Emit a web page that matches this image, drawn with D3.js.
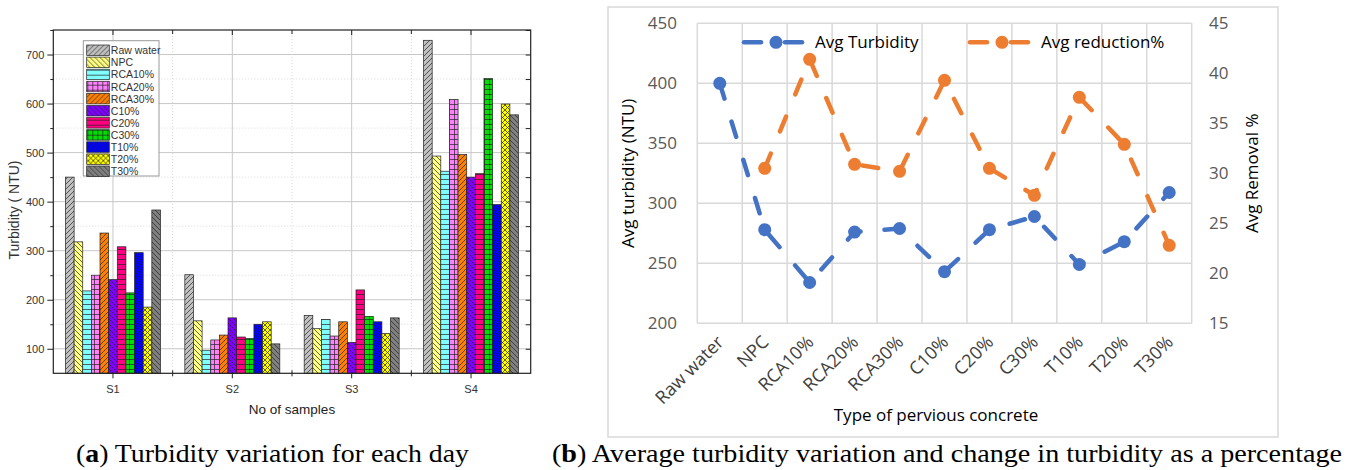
<!DOCTYPE html>
<html>
<head>
<meta charset="utf-8">
<script src="https://cdn.jsdelivr.net/npm/d3@7"></script>
<style>
  body { margin: 0; background: #fff; }
</style>
</head>
<body>
<svg id="fig" width="1354" height="470"></svg>
<script>
// ---- data: panel (a) turbidity per sample day ----
const groups = ["S1", "S2", "S3", "S4"];
const series = ["Raw water", "NPC", "RCA10%", "RCA20%", "RCA30%", "C10%", "C20%", "C30%", "T10%", "T20%", "T30%"];
const s1Values = [450, 318, 218, 250, 336, 241, 308, 214, 296, 185, 383];
const s2Values = [251, 157, 97, 118, 128, 163, 124, 121, 150, 155, 110];
const s3Values = [168, 141, 160, 126, 155, 113, 220, 166, 155, 131, 163];
const s4Values = [729, 493, 462, 608, 496, 450, 457, 651, 394, 599, 577];
const leftTicks = [100, 200, 300, 400, 500, 600, 700];

// ---- data: panel (b) averages ----
const concreteTypes = ["Raw water", "NPC", "RCA10%", "RCA20%", "RCA30%", "C10%", "C20%", "C30%", "T10%", "T20%", "T30%"];
const avgTurbidity = [400, 278, 234, 276, 279, 243, 278, 289, 249, 268, 309];
const avgReduction = [null, 30.5, 41.4, 30.9, 30.2, 39.3, 30.5, 27.8, 37.6, 32.9, 22.8];
const turbTicks = [200, 250, 300, 350, 400, 450];
const removalTicks = [15, 20, 25, 30, 35, 40, 45];

// styles for the hatched bars (same order as series)
const barColors = ["#c0c0c0", "#ffff80", "#80ffff", "#ff80ff", "#ff8000", "#8000ff", "#ff0080", "#00e000", "#0000ff", "#ffff00", "#808080"];
const barHatch = ["fwd", "back", "horiz", "grid", "fwd", "back", "horiz", "grid", "fwd", "cross", "back"];

const sansA = "'Liberation Sans', Arial, sans-serif";
const sansB = "'Open Sans', 'Noto Sans', sans-serif";
const serif = "'Liberation Serif', 'Times New Roman', serif";

const svg = d3.select("#fig");
const defs = svg.append("defs");

function addPattern(id, fill, kind) {
  const s = 5;
  const p = defs.append("pattern")
    .attr("id", id)
    .attr("patternUnits", "userSpaceOnUse")
    .attr("width", s)
    .attr("height", s);
  p.append("rect").attr("width", s).attr("height", s).attr("fill", fill);
  let d = "";
  const fwd = `M0,${s} L${s},0 M-1,1 L1,-1 M${s - 1},${s + 1} L${s + 1},${s - 1}`;
  const back = `M0,0 L${s},${s} M-1,${s - 1} L1,${s + 1} M${s - 1},-1 L${s + 1},1`;
  if (kind == "fwd") d = fwd;
  if (kind == "back") d = back;
  if (kind == "cross") d = fwd + " " + back;
  if (kind == "horiz") d = `M0,${s - 0.5} H${s}`;
  if (kind == "grid") d = `M0,${s - 0.5} H${s} M${s - 0.5},0 V${s}`;
  p.append("path").attr("d", d).attr("stroke", "#222").attr("stroke-width", 0.7).attr("fill", "none");
}
series.forEach((s, i) => addPattern("hatch" + i, barColors[i], barHatch[i]));

// =============== panel (a) ===============
const L = { left: 53.3, right: 530.7, top: 30, bottom: 373.3 };
const pa = svg.append("g").attr("font-family", sansA);

const x0 = d3.scaleBand().domain(groups).range([L.left, L.right]);
const x1 = d3.scaleBand().domain(series).range([0, x0.bandwidth()]).paddingOuter(1.41);
const y = d3.scaleLinear().domain([50, 750]).range([L.bottom, L.top]);

// grid
pa.append("g").selectAll("line.maj")
  .data(leftTicks).enter().append("line")
  .attr("x1", L.left).attr("x2", L.right)
  .attr("y1", d => y(d)).attr("y2", d => y(d))
  .attr("stroke", "#c8c8c8").attr("stroke-width", 1);
pa.append("g").selectAll("line.min")
  .data(leftTicks.slice(0, -1).map(d => d + 50)).enter().append("line")
  .attr("x1", L.left).attr("x2", L.right)
  .attr("y1", d => y(d)).attr("y2", d => y(d))
  .attr("stroke", "#d8d8d8").attr("stroke-dasharray", "1,2");
pa.append("g").selectAll("line")
  .data(groups).enter().append("line")
  .attr("x1", d => x0(d) + x0.bandwidth() / 2).attr("x2", d => x0(d) + x0.bandwidth() / 2)
  .attr("y1", L.top).attr("y2", L.bottom)
  .attr("stroke", "#c8c8c8");
pa.append("g").selectAll("line")
  .data(groups.slice(1)).enter().append("line")
  .attr("x1", d => x0(d)).attr("x2", d => x0(d))
  .attr("y1", L.top).attr("y2", L.bottom)
  .attr("stroke", "#d8d8d8").attr("stroke-dasharray", "1,2");

// bars
const allValues = [s1Values, s2Values, s3Values, s4Values];
const rows = [];
groups.forEach((g, gi) => {
  series.forEach((s, si) => rows.push({ group: g, series: s, idx: si, value: allValues[gi][si] }));
});
pa.append("g").selectAll("rect")
  .data(rows).enter().append("rect")
  .attr("x", d => x0(d.group) + x1(d.series))
  .attr("y", d => y(d.value))
  .attr("width", x1.bandwidth())
  .attr("height", d => L.bottom - y(d.value))
  .attr("fill", d => `url(#hatch${d.idx})`)
  .attr("stroke", "#222").attr("stroke-width", 0.7);

// frame
pa.append("rect")
  .attr("x", L.left).attr("y", L.top)
  .attr("width", L.right - L.left).attr("height", L.bottom - L.top)
  .attr("fill", "none").attr("stroke", "#222").attr("stroke-width", 1.2);

// axes
const minorTicks = d3.range(100, 751, 50).filter(d => leftTicks.indexOf(d) < 0);
const yAxisG = pa.append("g").attr("transform", `translate(${L.left},0)`)
  .call(d3.axisLeft(y).tickValues(leftTicks).tickSize(6).tickPadding(3));
yAxisG.append("g").call(d3.axisLeft(y).tickValues(minorTicks).tickSize(3).tickFormat(""));
yAxisG.selectAll(".domain").remove();
yAxisG.selectAll("text").attr("font-size", 11).attr("fill", "#333").attr("font-family", sansA);
yAxisG.selectAll("line").attr("stroke", "#222");

const rAxisG = pa.append("g").attr("transform", `translate(${L.right},0)`)
  .call(d3.axisLeft(y).tickValues(d3.range(100, 751, 50)).tickSize(5).tickFormat(""));
rAxisG.selectAll(".domain").remove();
rAxisG.selectAll("line").attr("stroke", "#222");

const tAxisG = pa.append("g").attr("transform", `translate(0,${L.top})`)
  .call(d3.axisBottom(x0).tickSize(5).tickFormat(""));
tAxisG.selectAll(".domain").remove();
tAxisG.selectAll("line").attr("stroke", "#222");

const bAxisG = pa.append("g").attr("transform", `translate(0,${L.bottom})`)
  .call(d3.axisBottom(x0).tickSize(5).tickPadding(7));
bAxisG.selectAll(".domain").remove();
bAxisG.selectAll("line").attr("stroke", "#222");
bAxisG.selectAll("text").attr("font-size", 11).attr("fill", "#333").attr("font-family", sansA);
pa.append("g").selectAll("line")
  .data(groups.slice(1)).enter().append("line")
  .attr("x1", d => x0(d)).attr("x2", d => x0(d))
  .attr("y1", L.bottom - 3).attr("y2", L.bottom + 3)
  .attr("stroke", "#222");
pa.append("g").selectAll("line")
  .data(groups.slice(1)).enter().append("line")
  .attr("x1", d => x0(d)).attr("x2", d => x0(d))
  .attr("y1", L.top).attr("y2", L.top + 4)
  .attr("stroke", "#222");

// axis titles
pa.append("text")
  .attr("transform", `translate(19,210) rotate(-90)`)
  .attr("text-anchor", "middle").attr("font-size", 14).attr("fill", "#333")
  .text("Turbidity ( NTU)");
pa.append("text")
  .attr("x", (L.left + L.right) / 2).attr("y", 414)
  .attr("text-anchor", "middle").attr("font-size", 13.5).attr("fill", "#222")
  .text("No of samples");

// legend
const lg = pa.append("g").attr("transform", "translate(83.3,40.7)");
lg.append("rect").attr("width", 75.7).attr("height", 135.3)
  .attr("fill", "#fff").attr("stroke", "#999").attr("stroke-width", 1);
series.forEach((s, i) => {
  lg.append("rect")
    .attr("x", 3.4).attr("y", 4.3 + i * 12.1)
    .attr("width", 22.6).attr("height", 10.5)
    .attr("fill", `url(#hatch${i})`).attr("stroke", "#222").attr("stroke-width", 0.7);
  lg.append("text")
    .attr("x", 27.5).attr("y", 13.6 + i * 12.1)
    .attr("font-size", 10.5).attr("fill", "#333")
    .text(s);
});

// =============== panel (b) ===============
const R = { left: 697.3, right: 1191.7, top: 23.3, bottom: 323.3 };
const pb = svg.append("g").attr("font-family", sansB);

pb.append("rect")
  .attr("x", 608).attr("y", 7).attr("width", 670).attr("height", 430)
  .attr("fill", "none").attr("stroke", "#d9d9d9").attr("stroke-width", 1.5);

const xc = d3.scaleBand().domain(concreteTypes).range([R.left, R.right]);
const yl = d3.scaleLinear().domain([200, 450]).range([R.bottom, R.top]);
const yr = d3.scaleLinear().domain([15, 45]).range([R.bottom, R.top]);

pb.append("g").selectAll("line")
  .data(turbTicks).enter().append("line")
  .attr("x1", R.left).attr("x2", R.right)
  .attr("y1", d => yl(d)).attr("y2", d => yl(d))
  .attr("stroke", "#d9d9d9").attr("stroke-width", 1.5);
pb.append("g").selectAll("line")
  .data(concreteTypes.concat(["end"])).enter().append("line")
  .attr("x1", d => d == "end" ? R.right : xc(d)).attr("x2", d => d == "end" ? R.right : xc(d))
  .attr("y1", R.top).attr("y2", R.bottom)
  .attr("stroke", "#d9d9d9").attr("stroke-width", 1.5);

// tick labels
pb.append("g").selectAll("text")
  .data(turbTicks).enter().append("text")
  .attr("x", 677).attr("y", d => yl(d) + 6)
  .attr("text-anchor", "end").attr("font-size", 17).attr("fill", "#595959")
  .text(d => d);
pb.append("g").selectAll("text")
  .data(removalTicks).enter().append("text")
  .attr("x", 1209).attr("y", d => yr(d) + 6)
  .attr("text-anchor", "start").attr("font-size", 17).attr("fill", "#595959")
  .text(d => d);
pb.append("g").selectAll("text")
  .data(concreteTypes).enter().append("text")
  .attr("transform", d => `translate(${xc(d) + xc.bandwidth() / 2 + 5},${R.bottom + 20}) rotate(-45)`)
  .attr("text-anchor", "end").attr("font-size", 18).attr("fill", "#404040")
  .text(d => d);

// axis titles
pb.append("text")
  .attr("transform", `translate(634,${(R.top + R.bottom) / 2}) rotate(-90)`)
  .attr("text-anchor", "middle").attr("font-size", 17).attr("fill", "#000")
  .text("Avg turbidity (NTU)");
pb.append("text")
  .attr("transform", `translate(1258,${(R.top + R.bottom) / 2}) rotate(-90)`)
  .attr("text-anchor", "middle").attr("font-size", 17).attr("fill", "#000")
  .text("Avg Removal %");
pb.append("text")
  .attr("x", 936).attr("y", 421)
  .attr("text-anchor", "middle").attr("font-size", 17).attr("fill", "#000")
  .text("Type of pervious concrete");

// lines
const blue = "#4472c4", orange = "#ed7d31";
const cx = d => xc(d) + xc.bandwidth() / 2;
const turbLine = d3.line().x((d, i) => cx(concreteTypes[i])).y(d => yl(d));
const redLine = d3.line().defined(d => d != null).x((d, i) => cx(concreteTypes[i])).y(d => yr(d));

pb.append("path").attr("d", turbLine(avgTurbidity))
  .attr("fill", "none").attr("stroke", blue).attr("stroke-width", 4.5)
  .attr("stroke-dasharray", "16,24").attr("stroke-linecap", "round");
pb.append("g").selectAll("circle")
  .data(avgTurbidity).enter().append("circle")
  .attr("cx", (d, i) => cx(concreteTypes[i])).attr("cy", d => yl(d))
  .attr("r", 6.5).attr("fill", blue);

pb.append("path").attr("d", redLine(avgReduction))
  .attr("fill", "none").attr("stroke", orange).attr("stroke-width", 4.5)
  .attr("stroke-dasharray", "16,24").attr("stroke-linecap", "round");
pb.append("g").selectAll("circle")
  .data(avgReduction.map((d, i) => ({ v: d, c: concreteTypes[i] })).filter(d => d.v != null))
  .enter().append("circle")
  .attr("cx", d => cx(d.c)).attr("cy", d => yr(d.v))
  .attr("r", 6.5).attr("fill", orange);

// legend
const legendItems = [
  { name: "Avg Turbidity", color: blue, x: 742 },
  { name: "Avg reduction%", color: orange, x: 968 },
];
legendItems.forEach(it => {
  const g = pb.append("g").attr("transform", `translate(${it.x},42.3)`);
  g.append("line").attr("x1", 2).attr("x2", 19).attr("stroke", it.color)
    .attr("stroke-width", 4.5).attr("stroke-linecap", "round");
  g.append("line").attr("x1", 43).attr("x2", 60).attr("stroke", it.color)
    .attr("stroke-width", 4.5).attr("stroke-linecap", "round");
  g.append("circle").attr("cx", 34).attr("r", 6.5).attr("fill", it.color);
  g.append("text").attr("x", 73).attr("y", 6).attr("font-size", 17).attr("fill", "#000").text(it.name);
});

// =============== captions ===============
const cap = svg.append("g").attr("font-family", serif).attr("font-size", 25).attr("fill", "#000");
const capA = cap.append("text").attr("x", 76).attr("y", 462).attr("textLength", 393).attr("lengthAdjust", "spacingAndGlyphs");
capA.append("tspan").text("(");
capA.append("tspan").attr("font-weight", "bold").text("a");
capA.append("tspan").text(") Turbidity variation for each day");
const capB = cap.append("text").attr("x", 552).attr("y", 462).attr("textLength", 790).attr("lengthAdjust", "spacingAndGlyphs");
capB.append("tspan").text("(");
capB.append("tspan").attr("font-weight", "bold").text("b");
capB.append("tspan").text(") Average turbidity variation and change in turbidity as a percentage");
</script>
</body>
</html>
